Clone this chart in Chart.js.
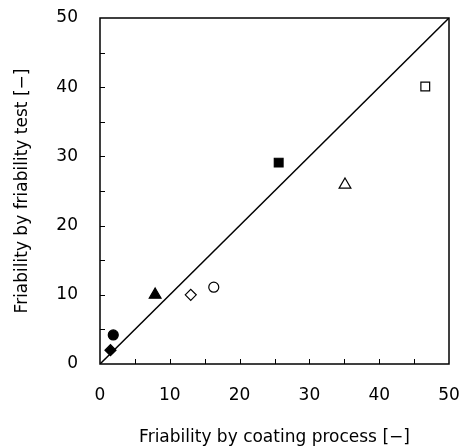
<!DOCTYPE html>
<html>
<head>
<meta charset="utf-8">
<script src="https://cdn.jsdelivr.net/npm/chart.js@4.4.0/dist/chart.umd.min.js"></script>
<style>
  body { margin: 0; background: #fff; }
  #wrap { width: 461px; height: 447px; }
</style>
</head>
<body>
<div id="wrap"><canvas id="chart"></canvas></div>
<script>
// values
const coatingFriability = [1.5, 1.9, 7.9, 13.0, 16.3, 25.6, 35.1, 46.6];
const testFriability = [2.0, 4.2, 10.0, 10.0, 11.1, 29.1, 25.9, 40.1];
const markerShapes = ['rectRot', 'circle', 'triangle', 'rectRot', 'circle', 'rect', 'triangle', 'rect'];
const markerFilled = [true, true, true, false, false, true, false, false];
const diagonalLine = [{ x: 0, y: 0 }, { x: 50, y: 50 }];
const axisMin = 0, axisMax = 50;

const font = "'DejaVu Sans', sans-serif";

const radiusFor = { rect: 6.2, rectRot: 5.5, circle: 5, triangle: 6.8 };
const pointSets = coatingFriability.map((x, i) => ({
    type: 'scatter',
    data: [{ x, y: testFriability[i] }],
    pointStyle: markerShapes[i],
    pointRadius: radiusFor[markerShapes[i]],
    backgroundColor: markerFilled[i] ? '#000' : '#fff',
    borderColor: '#000',
    borderWidth: 1.2
}));

// frame + inward tick marks every 5
const frameTicks = {
    id: 'frameTicks',
    afterDraw(chart) {
        const { ctx, chartArea: a, scales } = chart;
        ctx.save();
        ctx.strokeStyle = '#000';
        ctx.lineWidth = 1.5;
        ctx.strokeRect(a.left, a.top, a.right - a.left, a.bottom - a.top);
        ctx.lineWidth = 1;
        for (let v = 5; v < axisMax; v += 5) {
            const px = Math.round(scales.x.getPixelForValue(v)) + 0.5;
            ctx.beginPath();
            ctx.moveTo(px, a.bottom);
            ctx.lineTo(px, a.bottom - 5);
            ctx.stroke();
            const py = Math.round(scales.y.getPixelForValue(v)) + 0.5;
            ctx.beginPath();
            ctx.moveTo(a.left, py);
            ctx.lineTo(a.left + 5, py);
            ctx.stroke();
        }
        ctx.restore();
    }
};

new Chart(document.getElementById('chart'), {
    data: {
        datasets: [{
            type: 'line',
            data: diagonalLine,
            borderColor: '#000',
            borderWidth: 1.5,
            pointRadius: 0,
            fill: false
        }, ...pointSets]
    },
    options: {
        responsive: true,
        maintainAspectRatio: false,
        animation: false,
        layout: { padding: { left: 0, right: 12, top: 18, bottom: 0 } },
        plugins: { legend: { display: false }, tooltip: { enabled: false } },
        scales: {
            x: {
                type: 'linear',
                min: axisMin, max: axisMax,
                grid: { display: false },
                border: { display: false },
                ticks: { stepSize: 10, color: '#000', font: { family: font, size: 17 }, padding: 13, maxRotation: 0 },
                title: { display: true, text: 'Friability by coating process [\u2212]', color: '#000', font: { family: font, size: 17 }, padding: { top: 4, bottom: -1 } },
                afterFit(s) { s.height = 83; s.paddingLeft = 0; s.paddingRight = 0; }
            },
            y: {
                type: 'linear',
                min: axisMin, max: axisMax,
                grid: { display: false },
                border: { display: false },
                ticks: { stepSize: 10, color: '#000', font: { family: font, size: 17 }, padding: 14 },
                title: { display: true, text: 'Friability by friability test [\u2212]', color: '#000', font: { family: font, size: 17 }, padding: { top: 12, bottom: 0 } },
                afterFit(s) { s.width = 100; s.paddingTop = 0; s.paddingBottom = 0; }
            }
        }
    },
    plugins: [frameTicks]
});
</script>
</body>
</html>
